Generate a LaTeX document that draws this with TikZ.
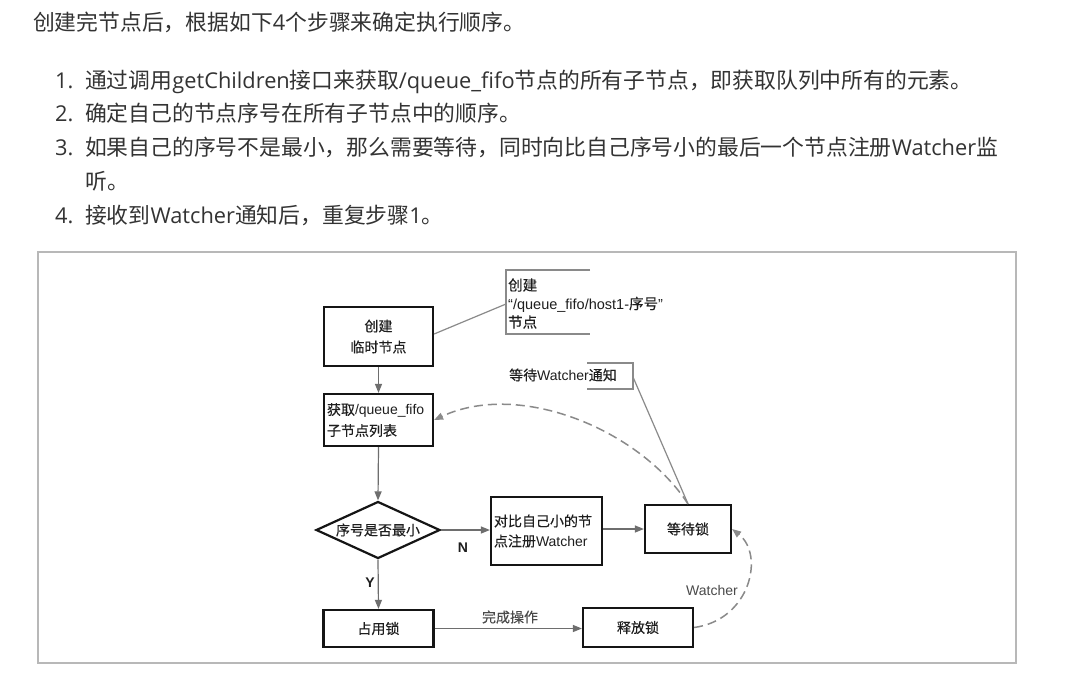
\documentclass[tikz,border=0pt]{standalone}
\usepackage{fontspec}
\setmainfont{Noto Sans CJK SC}
\newfontfamily\dgcjk[FakeBold=0.3]{Noto Sans CJK SC}
\newfontfamily\lat{Open Sans}
\newfontfamily\arl{Liberation Sans}
\usetikzlibrary{arrows.meta,shapes.geometric}
\definecolor{txt}{HTML}{333333}
\definecolor{dtxt}{HTML}{1E1E1E}
\definecolor{boxc}{HTML}{151515}
\definecolor{lnc}{HTML}{6E6E6E}
\definecolor{dsc}{HTML}{8A8A8A}
\definecolor{framec}{HTML}{B8B8B8}
\definecolor{lbl}{HTML}{4A4A4A}
\newcommand\topfont{\fontsize{21.8pt}{30pt}\selectfont}
\newcommand\dgfont{\dgcjk\fontsize{14pt}{21pt}\selectfont}
\newcommand\cofont{\dgcjk\fontsize{14.5pt}{18.5pt}\selectfont}
\tikzset{
  toptext/.style={anchor=base west, inner sep=0pt, text=txt, font=\topfont},
  box/.style={draw=boxc, line width=2.2pt, inner sep=1pt, font=\dgfont, text=dtxt, align=center},
  conn/.style={draw=lnc, line width=1.2pt, -{Triangle[length=9pt,width=7pt]}},
  dashline/.style={draw=dsc, line width=1.5pt, dash pattern=on 9pt off 5pt, -{Triangle[length=9pt,width=7pt]}, fill=none},
  thinline/.style={draw=dsc, line width=1.2pt},
  lab/.style={inner sep=0pt, font=\dgfont, text=lbl}
}
\begin{document}
\begin{tikzpicture}[x=1pt,y=-1pt]
\useasboundingbox (0,0) rectangle (1069,694);
\fill[white] (0,0) rectangle (1069,694);

% top text
\node[toptext] (t0) at (33,30.5) {创建完节点后，根据如下{\lat 4}个步骤来确定执行顺序。};
\node[toptext] (t1) at (55,88.5) {\makebox[30pt][l]{\lat 1.}通过调用{\lat getChildren}接口来获取{\lat /queue\_fifo}节点的所有子节点，即获取队列中所有的元素。};
\node[toptext] (t2) at (55,121.5) {\makebox[30pt][l]{\lat 2.}确定自己的节点序号在所有子节点中的顺序。};
\node[toptext] (t3) at (55,155.5) {\makebox[30pt][l]{\lat 3.}如果自己的序号不是最小，那么需要等待，同时向比自己序号小的最后一个节点注册{\lat Watcher}监};
\node[toptext] (t3b) at (85,189.5) {听。};
\node[toptext] (t4) at (55,223.5) {\makebox[30pt][l]{\lat 4.}接收到{\lat Watcher}通知后，重复步骤{\lat 1}。};

% frame
\draw[framec, line width=2pt] (37.5,252) rectangle (1016,663);

% boxes
\node[box, minimum width=109pt, minimum height=59pt] (b1) at (378.5,336.5) {创建\\临时节点};
\node[box, minimum width=109pt, minimum height=52pt, text width=103pt, align=left] (b2) at (378.5,420) {获取{\arl /queue\_fifo}\\子节点列表};
\node[draw=boxc, line width=2.2pt, shape=diamond, shape aspect=2.18, inner sep=0pt, minimum width=124pt, minimum height=57pt, font=\dgcjk\fontsize{14pt}{18pt}\selectfont, text=dtxt] (d1) at (378,530) {序号是否最小};
\node[box, minimum width=111pt, minimum height=68pt, text width=105pt, align=left, font=\dgcjk\fontsize{14pt}{20pt}\selectfont] (b3) at (546.5,531) {对比自己小的节\\点注册{\arl Watcher}};
\node[box, minimum width=86pt, minimum height=48pt] (b4) at (688,529) {等待锁};
\node[box, minimum width=110pt, minimum height=37pt] (b5) at (378.5,628.5) {占用锁};
\node[box, minimum width=110pt, minimum height=39pt] (b6) at (638,627.5) {释放锁};

% callouts
\node[anchor=west, inner sep=0pt, align=left, font=\cofont, text=dtxt] (c1) at (508,303.5) {创建\\{\arl “/queue\_fifo/host1-}序号{\arl ”}\\节点};
\coordinate (c1L) at (506,304);
\draw[thinline] (590,270) -- (506,270) -- (506,334) -- (590,334);
\node[anchor=west, inner sep=0pt, font=\dgfont, text=dtxt] (c2) at (509,375) {等待{\arl Watcher}通知};
\coordinate (c2R) at (633,377);
\draw[thinline] (587,363) -- (633,363) -- (633,389) -- (587,389);

% connectors
\draw[conn] (b1.south) -- (b2.north);
\draw[conn] (b2.south) -- (d1.north);
\draw[conn] (d1.east) -- (d1.east -| b3.west);
\draw[conn] (b3.east |- b4.west) -- (b4.west);
\draw[conn] (d1.south) -- (b5.north);
\draw[conn] (b5.east) -- (b6.west |- b5.east);
\draw[thinline] (b1.east |- 0,334) -- (c1L);
\draw[thinline] (c2R) -- (b4.north);
\draw[dashline] (b4.north) .. controls (640,430) and (520,380) .. (b2.east);
\draw[dashline] (b6.east) .. controls (750,620) and (765,555) .. (b4.east);

% labels
\node[lab, text=dtxt, font=\arl\bfseries\fontsize{14pt}{16pt}\selectfont] (lN) at (463,548) {N};
\node[lab, text=dtxt, font=\arl\bfseries\fontsize{14pt}{16pt}\selectfont] (lY) at (370,583) {Y};
\node[lab] (lW) at (510,617) {完成操作};
\node[lab, font=\arl\fontsize{14pt}{16pt}\selectfont] (lWa) at (712,590) {Watcher};
\end{tikzpicture}
\end{document}
